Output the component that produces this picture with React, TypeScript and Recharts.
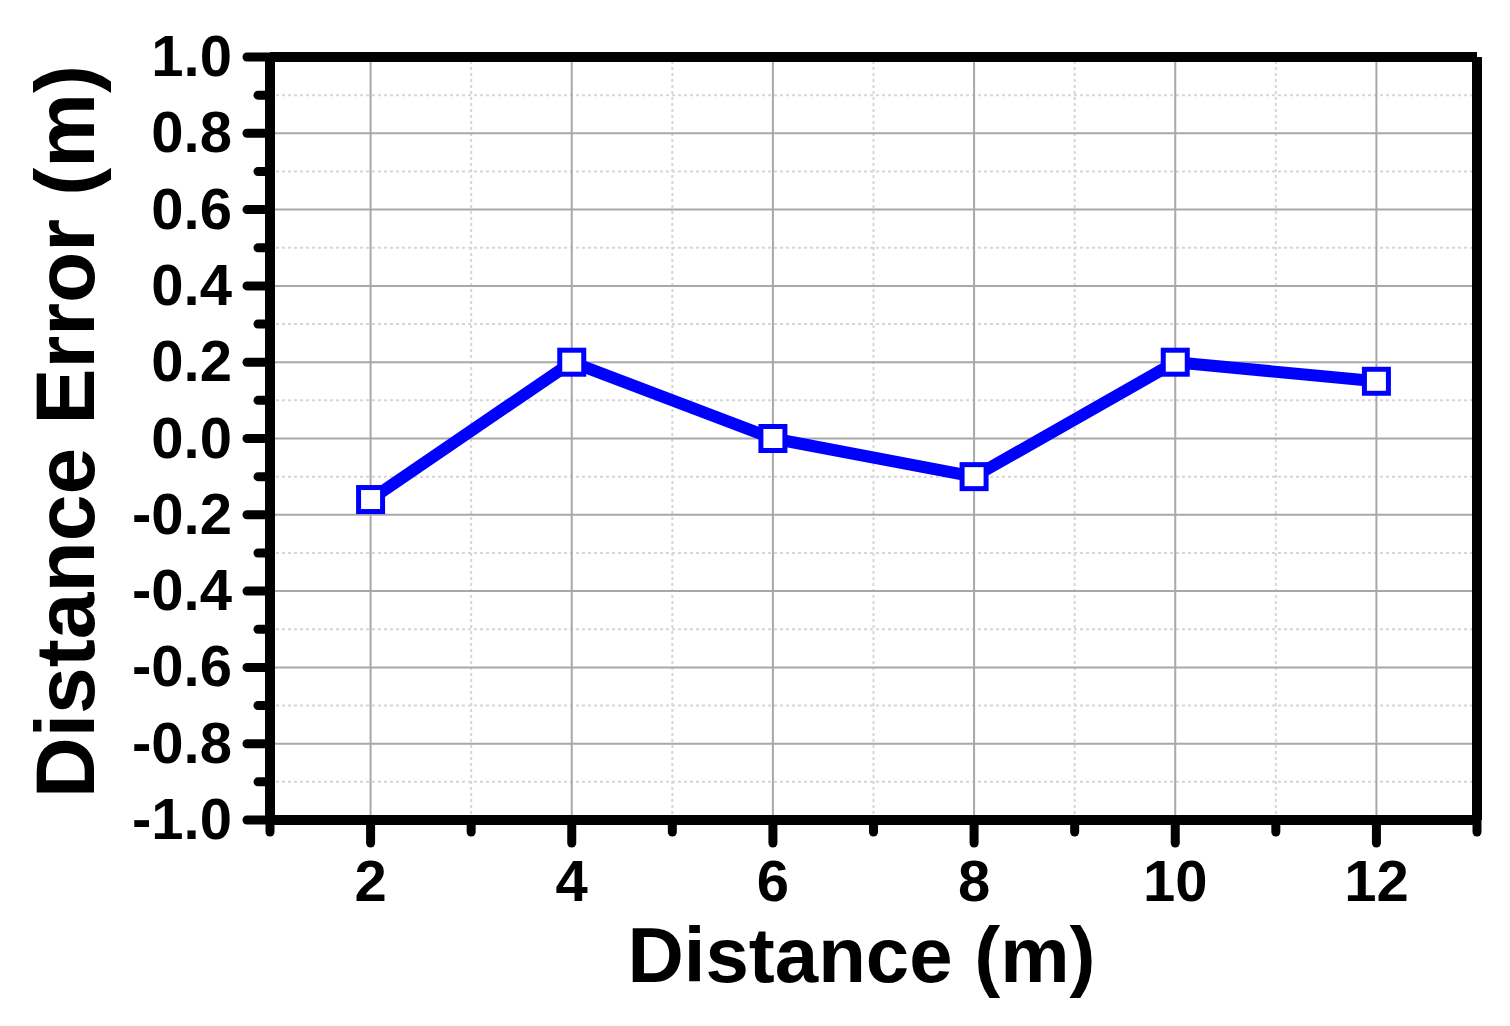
import {
  Label,
  Line,
  LineChart,
  ReferenceLine,
  XAxis,
  YAxis,
} from 'recharts';

const distances = [2, 4, 6, 8, 10, 12];
const errors = [-0.16, 0.2, 0.0, -0.1, 0.2, 0.15];

const xTicks = [1, 2, 3, 4, 5, 6, 7, 8, 9, 10, 11, 12, 13];
const yTicks = [
  -1.0, -0.9, -0.8, -0.7, -0.6, -0.5, -0.4, -0.3, -0.2, -0.1, 0.0, 0.1, 0.2,
  0.3, 0.4, 0.5, 0.6, 0.7, 0.8, 0.9, 1.0,
];

const xMajorGrid = [2, 4, 6, 8, 10, 12];
const xMinorGrid = [3, 5, 7, 9, 11];
const yMajorGrid = [-0.8, -0.6, -0.4, -0.2, 0.0, 0.2, 0.4, 0.6, 0.8];
const yMinorGrid = [-0.9, -0.7, -0.5, -0.3, -0.1, 0.1, 0.3, 0.5, 0.7, 0.9];

const data = distances.map((d, i) => ({ distance: d, error: errors[i] }));

const FONT = '"Liberation Sans", Arial, sans-serif';
const BLUE = '#0000ff';

const XTick = (props: any) => {
  const { x, y, payload } = props;
  const v = payload.value;
  const major = v % 2 === 0;
  return (
    <g>
      <line
        x1={x}
        y1={y}
        x2={x}
        y2={y + (major ? 23 : 12)}
        stroke="#000"
        strokeWidth={9}
        strokeLinecap="round"
      />
      {major && (
        <text
          x={x}
          y={y + 81}
          textAnchor="middle"
          fontFamily={FONT}
          fontWeight="bold"
          fontSize={58}
          fill="#000"
        >
          {v}
        </text>
      )}
    </g>
  );
};

const YTick = (props: any) => {
  const { x, y, payload } = props;
  const v = payload.value;
  const major = Math.round(v * 10) % 2 === 0;
  return (
    <g>
      <line
        x1={x}
        y1={y}
        x2={x - (major ? 23 : 12)}
        y2={y}
        stroke="#000"
        strokeWidth={9}
        strokeLinecap="round"
      />
      {major && (
        <text
          x={x - 38}
          y={y + 19}
          textAnchor="end"
          fontFamily={FONT}
          fontWeight="bold"
          fontSize={58}
          fill="#000"
        >
          {v.toFixed(1)}
        </text>
      )}
    </g>
  );
};

const SquareDot = (props: any) => {
  const { cx, cy, index } = props;
  return (
    <rect
      key={`dot-${index}`}
      x={cx - 12}
      y={cy - 12}
      width={24}
      height={24}
      fill="#fff"
      stroke={BLUE}
      strokeWidth={5}
    />
  );
};

export default function App() {
  return (
    <div style={{ position: 'absolute', left: 0, top: 0, background: '#fff' }}>
      <LineChart
        width={1510}
        height={1026}
        data={data}
        margin={{ top: 57, right: 33, left: 0, bottom: 0 }}
      >
        {xMinorGrid.map((v) => (
          <ReferenceLine
            key={`xm-${v}`}
            x={v}
            stroke="#d6d6d6"
            strokeWidth={2}
            strokeDasharray="3 3"
          />
        ))}
        {yMinorGrid.map((v) => (
          <ReferenceLine
            key={`ym-${v}`}
            y={v}
            stroke="#d6d6d6"
            strokeWidth={2}
            strokeDasharray="3 3"
          />
        ))}
        {xMajorGrid.map((v) => (
          <ReferenceLine key={`xM-${v}`} x={v} stroke="#a8a8a8" strokeWidth={2} />
        ))}
        {yMajorGrid.map((v) => (
          <ReferenceLine key={`yM-${v}`} y={v} stroke="#a8a8a8" strokeWidth={2} />
        ))}
        <ReferenceLine y={1} stroke="#000" strokeWidth={10} />
        <ReferenceLine x={13} stroke="#000" strokeWidth={10} />
        <XAxis
          dataKey="distance"
          type="number"
          domain={[1, 13]}
          ticks={xTicks}
          interval={0}
          height={206}
          tickSize={0}
          tickMargin={0}
          tick={<XTick />}
          tickLine={false}
          axisLine={{ stroke: '#000', strokeWidth: 10 }}
        >
          <Label
            content={(p: any) => {
              const vb = p.viewBox;
              return (
                <text
                  x={vb.x + vb.width / 2 - 12}
                  y={vb.y + 162}
                  textAnchor="middle"
                  fontFamily={FONT}
                  fontWeight="bold"
                  fontSize={78}
                  fill="#000"
                >
                  Distance (m)
                </text>
              );
            }}
          />
        </XAxis>
        <YAxis
          type="number"
          domain={[-1, 1]}
          ticks={yTicks}
          interval={0}
          width={270}
          tickSize={0}
          tickMargin={0}
          tick={<YTick />}
          tickLine={false}
          axisLine={{ stroke: '#000', strokeWidth: 10 }}
        >
          <Label
            content={(p: any) => {
              const vb = p.viewBox;
              const cx = 94;
              const cy = vb.y + vb.height / 2 - 7;
              return (
                <text
                  x={cx}
                  y={cy}
                  transform={`rotate(-90 ${cx} ${cy})`}
                  textAnchor="middle"
                  fontFamily={FONT}
                  fontWeight="bold"
                  fontSize={84}
                  fill="#000"
                >
                  Distance Error (m)
                </text>
              );
            }}
          />
        </YAxis>
        <Line
          dataKey="error"
          stroke={BLUE}
          strokeWidth={12}
          strokeLinejoin="round"
          dot={SquareDot}
          isAnimationActive={false}
        />
      </LineChart>
    </div>
  );
}
